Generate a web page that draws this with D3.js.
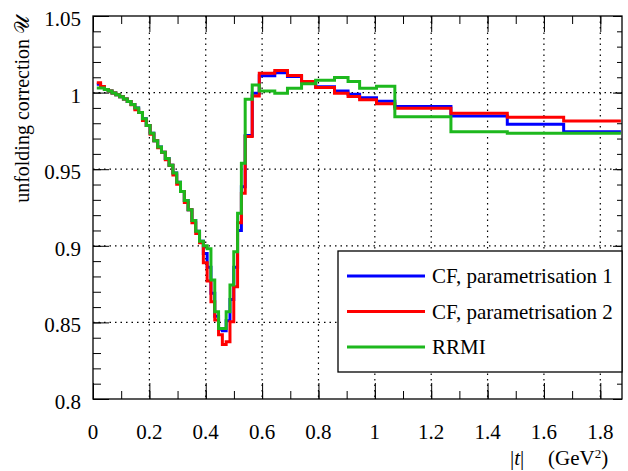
<!DOCTYPE html>
<html>
<head>
<meta charset="utf-8">
<script src="https://cdn.jsdelivr.net/npm/d3@7"></script>
<style>
  body { margin: 0; background: #fff; }
  svg text { font-family: "Liberation Serif", "Times New Roman", serif; fill: #000; }
</style>
</head>
<body>
<svg id="chart" width="628" height="471"></svg>
<script>
// bin edges in |t| (GeV^2), shared by all three curves
const binEdges = [
  0.0135, 0.027, 0.0405, 0.054, 0.0675, 0.081, 0.0945, 0.108, 0.1215, 0.135,
  0.1485, 0.162, 0.1755, 0.189, 0.2025, 0.216, 0.2295, 0.243, 0.2565, 0.27,
  0.2835, 0.297, 0.3105, 0.324, 0.3375, 0.351, 0.3645, 0.378, 0.3915, 0.405,
  0.4185, 0.432, 0.4455, 0.459, 0.4725, 0.486, 0.4995, 0.513, 0.5265, 0.54,
  0.565, 0.59, 0.645, 0.69, 0.74, 0.79, 0.857, 0.905, 0.946, 1.006,
  1.071, 1.27, 1.47, 1.67, 1.873
];

// unfolding correction per bin
const cfPar1 = [
  1.0055, 1.0035, 1.002, 1.001, 0.9998, 0.9986, 0.9973, 0.9958, 0.9942, 0.9923,
  0.9900, 0.9870, 0.9830, 0.9785, 0.9735, 0.9685, 0.9645, 0.9610, 0.9570, 0.9525,
  0.9475, 0.9415, 0.9355, 0.9295, 0.9235, 0.9165, 0.9095, 0.9030,
  0.895, 0.886, 0.869, 0.854, 0.8455, 0.8445, 0.851, 0.865, 0.886, 0.910, 0.9386,
  0.972, 0.9995, 1.011, 1.013, 1.0105, 1.0065, 1.0038, 1.001, 0.999, 0.9967,
  0.9944, 0.9909, 0.9848, 0.9794, 0.9745
];
const cfPar2 = [
  1.0065, 1.004, 1.002, 1.001, 0.9998, 0.9986, 0.9973, 0.9958, 0.9942, 0.9920,
  0.9888, 0.9870, 0.9818, 0.9785, 0.9728, 0.9685, 0.9640, 0.9610, 0.9562, 0.9525,
  0.9462, 0.9402, 0.9355, 0.9282, 0.9235, 0.9150, 0.9080, 0.9020,
  0.889, 0.877, 0.8635, 0.8515, 0.842, 0.8355, 0.8374, 0.8504, 0.8733, 0.915, 0.9343,
  0.9713, 0.9978, 1.0127, 1.0144, 1.0111, 1.0072, 1.0033, 0.9996, 0.9975, 0.9954,
  0.9928, 0.9898, 0.9865, 0.9839, 0.9815
];
const rrmi = [
  1.003, 1.003, 1.002, 1.001, 0.9998, 0.9986, 0.9973, 0.9958, 0.9942, 0.9923,
  0.9900, 0.9870, 0.9830, 0.9785, 0.9735, 0.9685, 0.9645, 0.9610, 0.9570, 0.9525,
  0.9475, 0.9415, 0.9355, 0.9295, 0.9235, 0.9165, 0.9095, 0.9030,
  0.900, 0.898, 0.8777, 0.857, 0.846, 0.846, 0.857, 0.8744, 0.8961, 0.9212, 0.9539,
  0.9957, 1.005, 1.0011, 0.9996, 1.0029, 1.0057, 1.008, 1.0098, 1.0072, 1.0029,
  1.0042, 0.9843, 0.9745, 0.9735, 0.9735
];

const seriesNames = ["CF, parametrisation 1", "CF, parametrisation 2", "RRMI"];
const seriesColors = ["#0000ff", "#ff0000", "#1db81d"];

const xMajorTicks = [0, 0.2, 0.4, 0.6, 0.8, 1, 1.2, 1.4, 1.6, 1.8];
const yMajorTicks = [0.8, 0.85, 0.9, 0.95, 1, 1.05];

const svg = d3.select("#chart");
const margin = { top: 16, right: 6, bottom: 72, left: 93 };
const width = 628 - margin.left - margin.right;
const height = 471 - margin.top - margin.bottom;

const x = d3.scaleLinear().domain([0, 1.877]).range([margin.left, margin.left + width]);
const y = d3.scaleLinear().domain([0.8, 1.05]).range([margin.top + height, margin.top]);

// dotted grid at major ticks
const grid = svg.append("g").attr("stroke", "#000").attr("stroke-width", 1.2)
  .attr("stroke-dasharray", "1.5,4");
grid.selectAll("line.gx").data(xMajorTicks.filter(d => d > 0)).enter().append("line")
  .attr("x1", d => x(d)).attr("x2", d => x(d))
  .attr("y1", margin.top).attr("y2", margin.top + height);
grid.selectAll("line.gy").data(yMajorTicks.filter(d => d > 0.8 && d < 1.05)).enter().append("line")
  .attr("x1", margin.left).attr("x2", margin.left + width)
  .attr("y1", d => y(d)).attr("y2", d => y(d));

// axes, ROOT style: ticks inside on all four sides
const xMinor = d3.range(0, 1.87, 0.1);
const yMinor = d3.range(0.8, 1.0501, 0.01);

function addAxis(axisFn, scale, values, len, transform) {
  const g = svg.append("g")
    .attr("transform", transform)
    .call(axisFn(scale).tickValues(values).tickSize(len).tickFormat(""));
  g.select(".domain").remove();
  g.selectAll("line").attr("stroke", "#000").attr("stroke-width", 1);
  return g;
}
const bottomY = margin.top + height, rightX = margin.left + width;
addAxis(d3.axisTop, x, xMinor, 8, `translate(0,${bottomY})`);
addAxis(d3.axisTop, x, xMajorTicks, 16, `translate(0,${bottomY})`);
addAxis(d3.axisBottom, x, xMinor, 8, `translate(0,${margin.top})`);
addAxis(d3.axisBottom, x, xMajorTicks, 16, `translate(0,${margin.top})`);
addAxis(d3.axisRight, y, yMinor, 8, `translate(${margin.left},0)`);
addAxis(d3.axisRight, y, yMajorTicks, 16, `translate(${margin.left},0)`);
addAxis(d3.axisLeft, y, yMinor, 5, `translate(${rightX},0)`);
addAxis(d3.axisLeft, y, yMajorTicks, 9, `translate(${rightX},0)`);

// tick labels
svg.append("g").selectAll("text").data(xMajorTicks).enter().append("text")
  .attr("x", d => x(d)).attr("y", 439)
  .attr("text-anchor", "middle").style("font-size", "21px")
  .text(d => d3.format("")(d));
svg.append("g").selectAll("text").data(yMajorTicks).enter().append("text")
  .attr("x", 81).attr("y", d => y(d) + 10)
  .attr("text-anchor", "end").style("font-size", "21px")
  .text(d => d3.format("")(d));

// step curves
const clip = svg.append("clipPath").attr("id", "plotclip").append("rect")
  .attr("x", margin.left).attr("y", margin.top).attr("width", width).attr("height", height);

const stepLine = d3.line().x(d => x(d[0])).y(d => y(d[1])).curve(d3.curveStepAfter);
[cfPar1, cfPar2, rrmi].forEach((vals, i) => {
  const pts = binEdges.map((e, k) => [e, vals[Math.min(k, vals.length - 1)]]);
  svg.append("path").datum(pts)
    .attr("clip-path", "url(#plotclip)")
    .attr("fill", "none").attr("stroke", seriesColors[i]).attr("stroke-width", 3)
    .attr("d", stepLine);
});

// frame
svg.append("rect").attr("x", margin.left).attr("y", margin.top)
  .attr("width", width).attr("height", height)
  .attr("fill", "none").attr("stroke", "#000").attr("stroke-width", 1.3);

// legend
const legend = svg.append("g");
legend.append("rect").attr("x", 338).attr("y", 251).attr("width", 284).attr("height", 121)
  .attr("fill", "#fff").attr("stroke", "#000").attr("stroke-width", 1.3);
seriesNames.forEach((name, i) => {
  const ly = 276 + i * 35.5;
  legend.append("line").attr("x1", 347).attr("x2", 425).attr("y1", ly).attr("y2", ly)
    .attr("stroke", seriesColors[i]).attr("stroke-width", 3);
  legend.append("text").attr("x", 432).attr("y", ly + 7).style("font-size", "21px").text(name);
});

// axis titles
const xt = svg.append("text").attr("y", 465).style("font-size", "21px");
xt.append("tspan").attr("x", 510).text("|");
xt.append("tspan").style("font-style", "italic").text("t");
xt.append("tspan").text("|");
xt.append("tspan").attr("x", 548).text("(GeV");
xt.append("tspan").attr("dy", -7).style("font-size", "13px").text("2");
xt.append("tspan").attr("dy", 7).text(")");

svg.append("text")
  .attr("transform", `translate(29,16) rotate(-90)`)
  .attr("text-anchor", "end").style("font-size", "20px")
  .text("unfolding correction 𝒰");
</script>
</body>
</html>
